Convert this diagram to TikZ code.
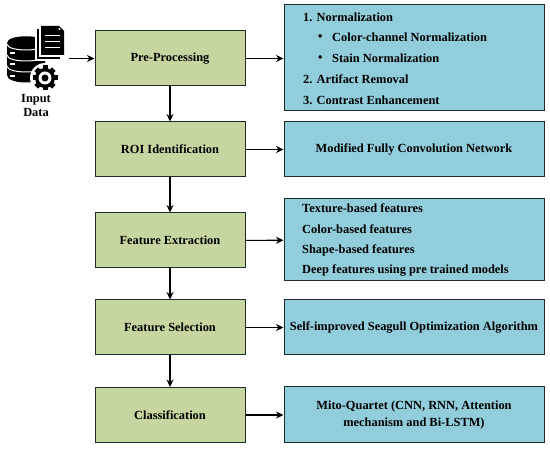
\documentclass[tikz,border=0pt]{standalone}
\usepackage{fontspec}
\setmainfont{Liberation Serif}
\usetikzlibrary{arrows.meta}
\definecolor{gr}{HTML}{C5D6A0}
\definecolor{bl}{HTML}{92CDDC}
\definecolor{ln}{HTML}{1F2A2A}
\tikzset{x=1pt,y=-1pt,
 gbox/.style={draw=ln,line width=1pt,fill=gr,minimum width=150pt,minimum height=55pt,inner sep=0pt,font=\fontsize{12.4}{14}\bfseries\selectfont},
 bbox/.style={draw=ln,line width=1pt,fill=bl,minimum width=260pt,inner sep=0pt,font=\fontsize{12.4}{14}\bfseries\selectfont,align=center},
 conn/.style={draw=black,line width=1.1pt,-{Stealth[length=7.5pt,width=7pt]}},
 txt/.style={anchor=west,inner sep=0pt,font=\fontsize{12.4}{14}\bfseries\selectfont}}
\begin{document}
\begin{tikzpicture}
\useasboundingbox (0,0) rectangle (550,449);
\fill[white] (0,0) rectangle (550,449);
\node[gbox] (pre) at (170,58.5) {Pre-Processing};
\node[gbox] (roi) at (170,149.5) {ROI Identification};
\node[gbox] (fe) at (170,240.5) {Feature Extraction};
\node[gbox] (fs) at (170,327.5) {Feature Selection};
\node[gbox] (cl) at (170,415) {Classification};
\node[bbox,minimum height=106pt] (b1) at (414,58) {};
\node[bbox,minimum height=55pt] (b2) at (414,149.5) {Modified Fully Convolution Network};
\node[bbox,minimum height=82pt] (b3) at (414,240) {};
\node[bbox,minimum height=55pt] (b4) at (414,327.5) {Self-improved Seagull Optimization Algorithm};
\node[bbox,minimum height=56pt] (b5) at (414,415) {Mito-Quartet (CNN, RNN, Attention\\[2.5pt] mechanism and Bi-LSTM)};
\node[txt] at (303,17) {1. Normalization};
\node[txt] at (318,37.5) {\textbullet};
\node[txt] at (332,37.5) {Color-channel Normalization};
\node[txt] at (318,58.5) {\textbullet};
\node[txt] at (332,58.5) {Stain Normalization};
\node[txt] at (303,79.5) {2. Artifact Removal};
\node[txt] at (303,100.5) {3. Contrast Enhancement};
\node[txt] at (302,208) {Texture-based features};
\node[txt] at (302,229) {Color-based features};
\node[txt] at (302,250) {Shape-based features};
\node[txt] at (302,271) {Deep features using pre trained models};
\coordinate (in) at (69,58.5);
\draw[conn] (in) -- (pre);
\draw[conn] (pre) -- (roi);
\draw[conn] (roi) -- (fe);
\draw[conn] (fe) -- (fs);
\draw[conn] (fs) -- (cl);
\draw[conn] (pre) -- (pre-|b1.west);
\draw[conn] (roi) -- (b2);
\draw[conn] (fe) -- (b3);
\draw[conn] (fs) -- (b4);
\draw[conn] (cl) -- (b5);
% database: one black cylinder cut by white arcs
\fill[black] (7,43) .. controls (7,34) and (45,34) .. (45,43) -- (45,75) .. controls (45,85) and (7,85) .. (7,75) -- cycle;
\foreach \yy in {44,55,66}{
 \draw[white,line width=1pt] (7,\yy) .. controls (7,\yy+8) and (45,\yy+8) .. (45,\yy);
}
\foreach \yy in {52,63,75}{\fill[white] (10,\yy) rectangle (15,\yy+2);}
% documents
\fill[white] (35,25) rectangle (67,61);
\draw[black,line width=1.2pt] (38,29) -- (38,58) -- (60,58);
\fill[black] (41,26) -- (59,26) -- (64,31) -- (64,55) -- (41,55) -- cycle;
\foreach \yy in {35,41,47}{\fill[white] (45,\yy) rectangle (60,\yy+1.5);}
\fill[white] (59.5,29) circle (1.2);
% gear
\fill[white] (45,78) circle (15);
\foreach \a in {0,45,...,315}{\fill[black,rotate around={\a:(45,78)}] (42.5,65.5) rectangle (47.5,70);}
\fill[black] (45,78) circle (10);
\fill[white] (45,78) circle (6.5);
\fill[black] (45,78) circle (3.5);
\node[font=\fontsize{12.4}{14}\bfseries\selectfont,align=center,inner sep=0pt] (lab) at (36,106) {Input\\Data};
\end{tikzpicture}
\end{document}
